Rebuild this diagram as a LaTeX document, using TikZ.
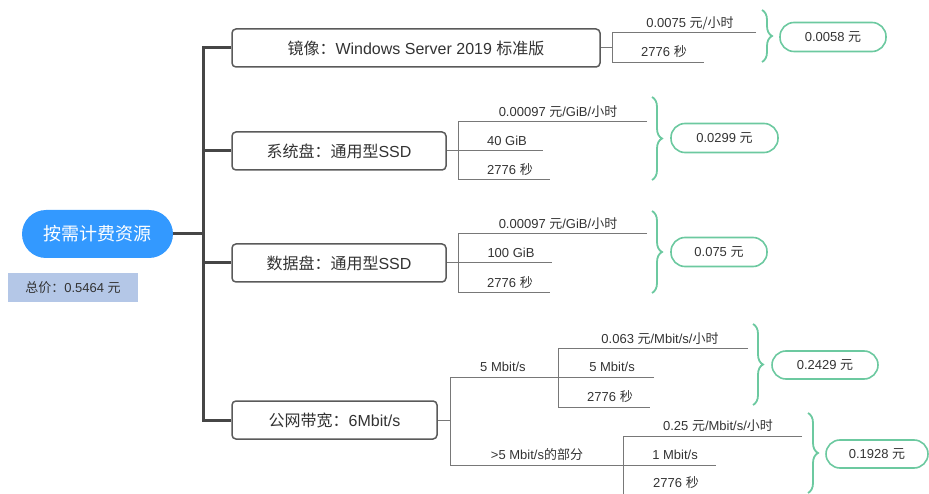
\documentclass[tikz,border=0pt]{standalone}
\usepackage{fontspec}
\setmainfont{Liberation Sans}
\newfontfamily\cjkf{Noto Sans CJK SC}
\newcommand{\zhs}[1]{{\cjkf #1}}
\usetikzlibrary{decorations.pathreplacing}
\definecolor{rootblue}{RGB}{51,153,255}
\definecolor{totalfill}{RGB}{180,199,231}
\definecolor{brgreen}{RGB}{108,201,160}
\definecolor{spinec}{RGB}{70,70,70}
\definecolor{boxc}{RGB}{90,90,90}
\definecolor{thinc}{RGB}{120,120,120}
\definecolor{txt}{RGB}{51,51,51}
\begin{document}
\begin{tikzpicture}[x=1pt,y=-1pt,
 spine/.style={line width=3pt, draw=spinec},
 thin/.style={line width=1pt, draw=thinc},
 branchbox/.style={draw=boxc, line width=1.5pt, rounded corners=4pt, fill=white, minimum height=38pt, inner sep=0pt, font=\fontsize{16}{18}\selectfont, text=txt},
 lbl/.style={inner sep=0pt, font=\fontsize{13}{15}\selectfont, text=txt},
 pill/.style={draw=brgreen, line width=1.6pt, rounded corners=14pt, minimum height=29pt, inner sep=0pt, font=\fontsize{13}{15}\selectfont, text=txt},
 brc/.style={draw=brgreen, line width=1.8pt, decorate, decoration={brace, amplitude=10pt}},
]
\useasboundingbox (0,0) rectangle (929,494);

% root and total
\node[fill=rootblue, rounded corners=24pt, minimum width=151pt, minimum height=48pt, inner sep=0pt, text=white, font=\fontsize{18}{20}\selectfont\cjkf] (root) at (97.5,234) {按需计费资源};
\node[fill=totalfill, minimum width=130pt, minimum height=29pt, inner sep=0pt, font=\fontsize{13}{15}\selectfont, text=txt] (total) at (73,287.5) {\zhs{总价：}0.5464 \zhs{元}};

% branch boxes
\node[branchbox, minimum width=368pt] (b1) at (416,48) {\zhs{镜像：}Windows Server 2019 \zhs{标准版}};
\node[branchbox, minimum width=214pt] (b2) at (339,151) {\zhs{系统盘：通用型}SSD};
\node[branchbox, minimum width=214pt] (b3) at (339,263) {\zhs{数据盘：通用型}SSD};
\node[branchbox, minimum width=205pt] (b4) at (334.5,420) {\zhs{公网带宽：}6Mbit/s};

% spine
\coordinate (sroot) at (203,234);
\coordinate (stop) at (203,48);
\coordinate (sbot) at (203,420);
\coordinate (s2) at (203,151);
\coordinate (s3) at (203,263);
\draw[spine] (root.east) -- (sroot);
\draw[spine, line join=miter] (b1.west) -- (stop) -- (sbot) -- (b4.west);
\draw[spine] (s2) -- (b2.west);
\draw[spine] (s3) -- (b3.west);

% branch 1
\coordinate (j1) at (612,48);
\coordinate (j1t) at (612,33);
\coordinate (j1b) at (612,63);
\coordinate (e1a) at (756,33);
\coordinate (e1b) at (704,63);
\draw[thin] (b1.east) -- (j1);
\draw[thin] (e1a) -- (j1t) -- (j1b) -- (e1b);
\node[lbl] (l1a) at (690,23) {0.0075 \zhs{元/小时}};
\node[lbl] (l1b) at (664,52) {2776 \zhs{秒}};
\coordinate (br1t) at (762,10);
\coordinate (br1b) at (762,62);
\draw[brc] (br1t) -- (br1b);
\node[pill, minimum width=106pt] (p1) at (833,37) {0.0058 \zhs{元}};

% branch 2
\coordinate (j2) at (458,151);
\coordinate (j2t) at (458,122);
\coordinate (j2b) at (458,180);
\coordinate (e2a) at (647,122);
\coordinate (e2m) at (543,151);
\coordinate (e2b) at (550,180);
\draw[thin] (b2.east) -- (e2m);
\draw[thin] (e2a) -- (j2t) -- (j2b) -- (e2b);
\node[lbl] (l2a) at (558,112) {0.00097 \zhs{元}/GiB/\zhs{小时}};
\node[lbl] (l2b) at (507,141) {40 GiB};
\node[lbl] (l2c) at (510,170) {2776 \zhs{秒}};
\coordinate (br2t) at (652,97);
\coordinate (br2b) at (652,180);
\draw[brc] (br2t) -- (br2b);
\node[pill, minimum width=107pt] (p2) at (724.5,138) {0.0299 \zhs{元}};

% branch 3
\coordinate (j3) at (458,263);
\coordinate (j3t) at (458,234);
\coordinate (j3b) at (458,293);
\coordinate (e3a) at (647,234);
\coordinate (e3m) at (552,263);
\coordinate (e3b) at (550,293);
\draw[thin] (b3.east) -- (e3m);
\draw[thin] (e3a) -- (j3t) -- (j3b) -- (e3b);
\node[lbl] (l3a) at (558,224) {0.00097 \zhs{元}/GiB/\zhs{小时}};
\node[lbl] (l3b) at (511,253) {100 GiB};
\node[lbl] (l3c) at (510,283) {2776 \zhs{秒}};
\coordinate (br3t) at (652,211);
\coordinate (br3b) at (652,293);
\draw[brc] (br3t) -- (br3b);
\node[pill, minimum width=96pt] (p3) at (719,252) {0.075 \zhs{元}};

% branch 4
\coordinate (j4) at (450,420);
\coordinate (j4t) at (450,377);
\coordinate (j4b) at (450,465);
\coordinate (e4a) at (654,377);
\coordinate (e4b) at (716,465);
\draw[thin] (b4.east) -- (j4);
\draw[thin] (e4a) -- (j4t) -- (j4b) -- (e4b);
\node[lbl] (l4a) at (503,367) {5 Mbit/s};
\node[lbl] (l4b) at (537,455) {>5 Mbit/s\zhs{的部分}};
% sub 4a
\coordinate (k1t) at (558,348);
\coordinate (k1b) at (558,407);
\coordinate (f1a) at (748,348);
\coordinate (f1b) at (650,407);
\draw[thin] (f1a) -- (k1t) -- (k1b) -- (f1b);
\node[lbl] (m1a) at (660,339) {0.063 \zhs{元}/Mbit/s/\zhs{小时}};
\node[lbl] (m1b) at (612,367) {5 Mbit/s};
\node[lbl] (m1c) at (610,397) {2776 \zhs{秒}};
\coordinate (br4t) at (753,324);
\coordinate (br4b) at (753,405);
\draw[brc] (br4t) -- (br4b);
\node[pill, minimum width=106pt, minimum height=28pt] (p4) at (825,365) {0.2429 \zhs{元}};
% sub 4b
\coordinate (k2t) at (623,436);
\coordinate (k2b) at (623,494);
\coordinate (f2a) at (802,436);
\draw[thin] (f2a) -- (k2t) -- (k2b);
\node[lbl] (m2a) at (718,426) {0.25 \zhs{元}/Mbit/s/\zhs{小时}};
\node[lbl] (m2b) at (675,455) {1 Mbit/s};
\node[lbl] (m2c) at (676,483) {2776 \zhs{秒}};
\coordinate (br5t) at (808,413);
\coordinate (br5b) at (808,493);
\draw[brc] (br5t) -- (br5b);
\node[pill, minimum width=102pt, minimum height=28pt] (p5) at (877,454) {0.1928 \zhs{元}};
\end{tikzpicture}
\end{document}
